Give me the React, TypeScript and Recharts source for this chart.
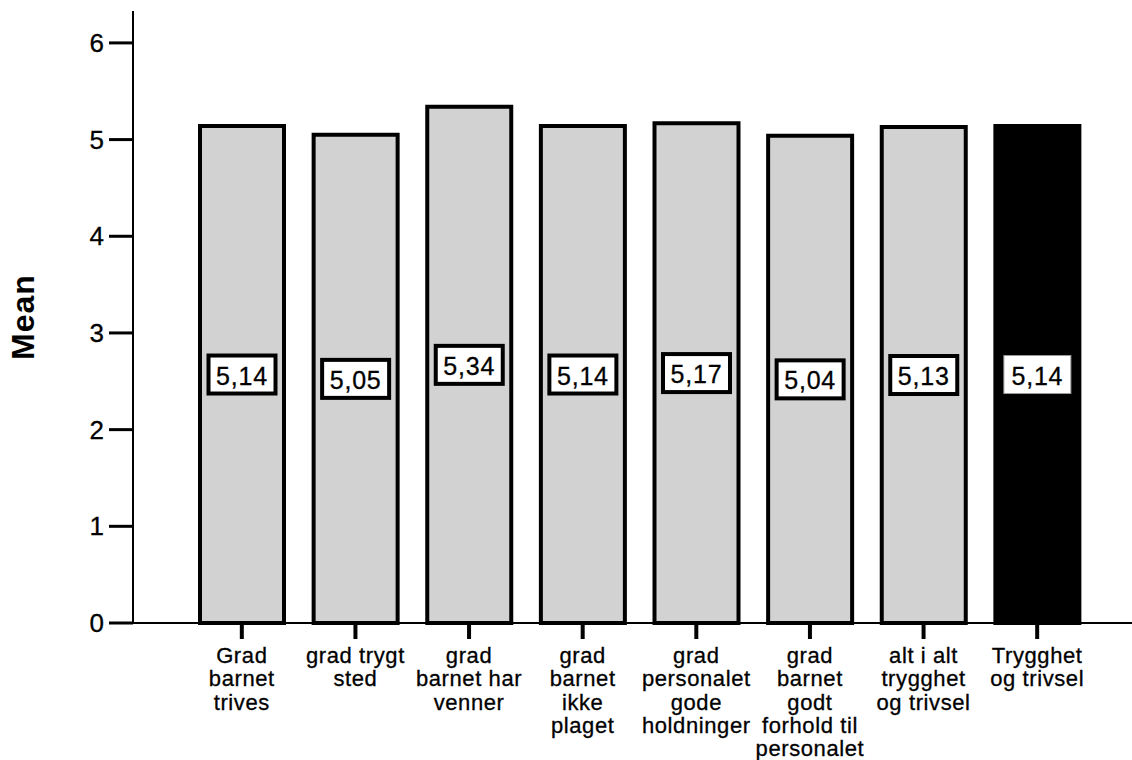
import { BarChart, Bar, XAxis, YAxis, Cell, LabelList } from "recharts";

const CATEGORIES = [
  "Grad\nbarnet\ntrives",
  "grad trygt\nsted",
  "grad\nbarnet har\nvenner",
  "grad\nbarnet\nikke\nplaget",
  "grad\npersonalet\ngode\nholdninger",
  "grad\nbarnet\ngodt\nforhold til\npersonalet",
  "alt i alt\ntrygghet\nog trivsel",
  "Trygghet\nog trivsel",
];
const MEANS = [5.14, 5.05, 5.34, 5.14, 5.17, 5.04, 5.13, 5.14];
const Y_TICKS = [0, 1, 2, 3, 4, 5, 6];
const Y_MAX = 6.33;

const data = CATEGORIES.map((name, i) => ({ name, mean: MEANS[i] }));
const last = data.length - 1;
const FONT = "'Liberation Sans', Arial, sans-serif";

function XTick({ x, y, payload }: any) {
  const lines = String(payload.value).split("\n");
  return (
    <text
      x={x}
      y={y}
      textAnchor="middle"
      fontFamily={FONT}
      fontSize={22}
      letterSpacing={0.6}
      fill="#000"
      stroke="#000"
      strokeWidth={0.3}
    >
      {lines.map((l, i) => (
        <tspan key={i} x={x} dy={i === 0 ? 24 : 23.3}>
          {l}
        </tspan>
      ))}
    </text>
  );
}

function YTick({ x, y, payload }: any) {
  return (
    <text
      x={x}
      y={y}
      textAnchor="end"
      dominantBaseline="central"
      fontFamily={FONT}
      fontSize={26}
      fill="#000"
      stroke="#000"
      strokeWidth={0.3}
    >
      {payload.value}
    </text>
  );
}

function YLabel({ viewBox }: any) {
  const cx = viewBox.x + 23;
  const cy = viewBox.y + viewBox.height / 2;
  return (
    <text
      x={cx}
      y={cy}
      transform={`rotate(-90, ${cx}, ${cy})`}
      textAnchor="middle"
      dominantBaseline="central"
      fontFamily={FONT}
      fontWeight={700}
      fontSize={32}
      letterSpacing={1}
      fill="#000"
    >
      Mean
    </text>
  );
}

function ValueBox(props: any) {
  const { x, y, width, height, value, index } = props;
  const cx = x + width / 2;
  const cy = y + height / 2;
  const w = 67;
  const h = 38;
  const dark = index === last;
  return (
    <g>
      <rect
        x={cx - w / 2}
        y={cy - h / 2}
        width={w}
        height={h}
        fill="#fff"
        stroke={dark ? "#999" : "#000"}
        strokeWidth={dark ? 1 : 4}
      />
      <text
        x={cx}
        y={cy + 1}
        textAnchor="middle"
        dominantBaseline="central"
        fontFamily={FONT}
        fontSize={25}
        letterSpacing={0.8}
        fill="#000"
        stroke="#000"
        strokeWidth={0.3}
      >
        {Number(value).toFixed(2).replace(".", ",")}
      </text>
    </g>
  );
}

export default function App() {
  return (
    <div style={{ position: "absolute", left: 0, top: 0, background: "#fff" }}>
      <BarChart
        width={1132}
        height={760}
        data={data}
        margin={{ top: 11, right: 0, bottom: 0, left: 0 }}
        barSize={84}
      >
        <XAxis
          xAxisId="top"
          orientation="top"
          dataKey="name"
          height={0}
          tick={false}
          tickLine={false}
          axisLine={{ stroke: "#000", strokeWidth: 2 }}
        />
        <XAxis
          dataKey="name"
          height={137}
          interval={0}
          padding={{ left: 52, right: 38 }}
          axisLine={{ stroke: "#000", strokeWidth: 2 }}
          tickLine={{ stroke: "#000", strokeWidth: 4 }}
          tickSize={16}
          tickMargin={0}
          tick={<XTick />}
        />
        <YAxis
          width={133}
          domain={[0, Y_MAX]}
          ticks={Y_TICKS}
          interval={0}
          axisLine={{ stroke: "#000", strokeWidth: 2 }}
          tickLine={{ stroke: "#000", strokeWidth: 3 }}
          tickSize={24}
          tickMargin={5}
          tick={<YTick />}
          label={<YLabel />}
        />
        <Bar dataKey="mean" stroke="#000" strokeWidth={4} isAnimationActive={false}>
          {data.map((_, i) => (
            <Cell key={i} fill={i === last ? "#000" : "#d2d2d2"} />
          ))}
          <LabelList dataKey="mean" content={<ValueBox />} />
        </Bar>
      </BarChart>
    </div>
  );
}
